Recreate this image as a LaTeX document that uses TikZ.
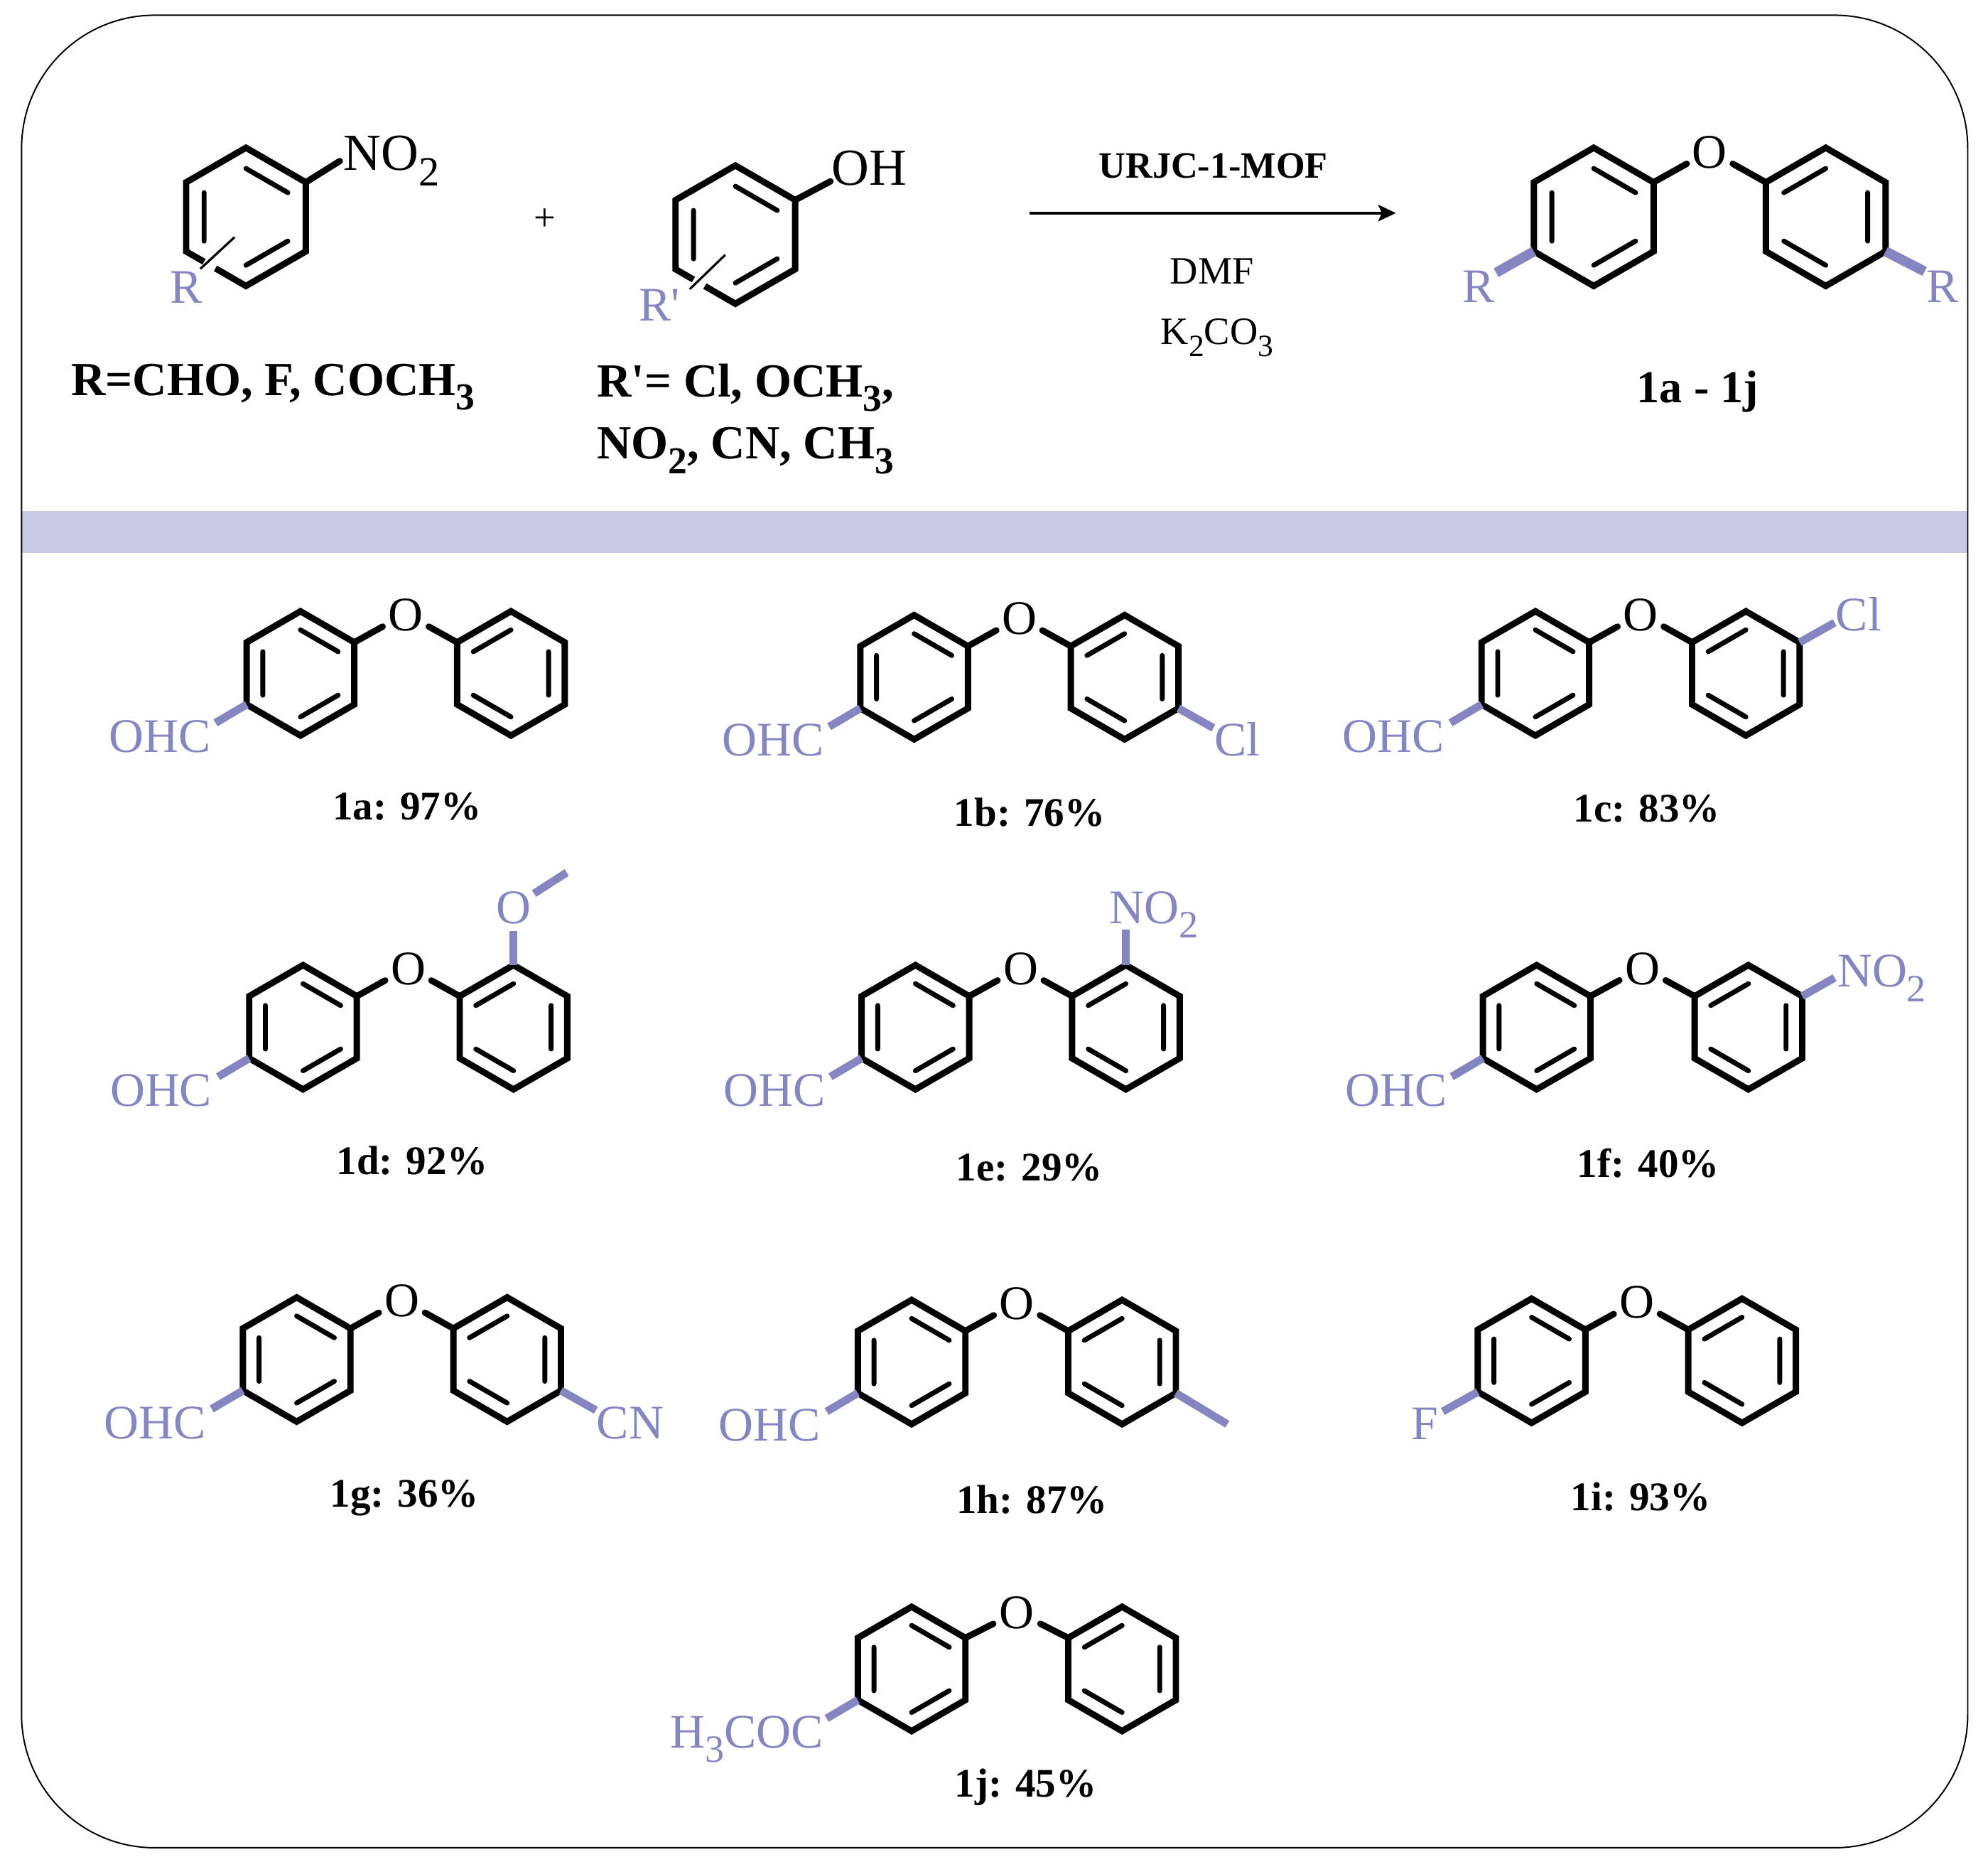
\documentclass[tikz,border=0pt]{standalone}
\usepackage{fontspec}
\setmainfont{Liberation Serif}
\newfontfamily\primefont{Liberation Serif}
\usetikzlibrary{arrows.meta,calc}
\definecolor{subblue}{HTML}{8585C1}
\definecolor{bandblue}{HTML}{C9C9E5}
\newcommand{\chemdn}[1]{\raisebox{-0.3em}[0pt][0pt]{\scalebox{0.8}{#1}}}
\newcommand{\prm}{{\primefont'}}
\tikzset{
 outerbond/.style={line width=5pt,line join=miter,line cap=butt},
 hetbond/.style={line width=5pt,line cap=round,shorten >=1.5pt},
 innerbond/.style={line width=3.9pt,line cap=round},
 subbond/.style={line width=6.2pt,subblue,line cap=butt},
 subbondtop/.style={line width=7.8pt,subblue,line cap=butt},
 atom/.style={font=\fontsize{38}{40}\selectfont,inner sep=0pt,text height=26.5pt,text depth=0pt},
 topatom/.style={atom,font=\fontsize{41}{44}\selectfont,text height=28.5pt},
 oxy/.style={atom,circle,minimum size=36pt},
 bluetext/.style={atom,text=subblue},
 caption/.style={font=\fontsize{32}{38}\selectfont\bfseries,inner sep=0pt,text height=22.4pt,text depth=0pt},
 bigcaption/.style={caption,font=\fontsize{37.5}{40}\selectfont\bfseries,text height=26pt},
 cond/.style={font=\fontsize{30.5}{36}\selectfont,inner sep=0pt,text height=21.4pt,text depth=0pt},
}
% hexagon: #1 name, #2 cx, #3 cy, #4 R, #5 side (1 = double bonds as left ring, -1 = as right ring)
\newcommand{\hexpts}[5]{%
 \coordinate (#1-t) at (#2,#3-#4);
 \coordinate (#1-b) at (#2,#3+#4);
 \coordinate (#1-ur) at (#2+.866*#4,#3-.5*#4);
 \coordinate (#1-lr) at (#2+.866*#4,#3+.5*#4);
 \coordinate (#1-ul) at (#2-.866*#4,#3-.5*#4);
 \coordinate (#1-ll) at (#2-.866*#4,#3+.5*#4);
 \coordinate (#1-it) at (#2,#3-.7*#4);
 \coordinate (#1-ib) at (#2,#3+.7*#4);
 \coordinate (#1-iu) at (#2+#5*.606*#4,#3-.35*#4);
 \coordinate (#1-il) at (#2+#5*.606*#4,#3+.35*#4);
 \coordinate (#1-ju) at (#2-#5*.606*#4,#3-.35*#4);
 \coordinate (#1-jl) at (#2-#5*.606*#4,#3+.35*#4);
 \draw[innerbond] (#1-it) -- (#1-iu) (#1-ib) -- (#1-il) (#1-ju) -- (#1-jl);
}
\newcommand{\hexring}[5]{%
 \hexpts{#1}{#2}{#3}{#4}{#5}
 \draw[outerbond] (#1-t) -- (#1-ur) -- (#1-lr) -- (#1-b) -- (#1-ll) -- (#1-ul) -- cycle;
}
% diphenyl ether: #1 id, #2 cx, #3 cy, #4 R, #5 ring separation, #6 O rise
\newcommand{\dpe}[6]{%
 \hexring{#1-l}{#2}{#3}{#4}{1}
 \hexring{#1-r}{#2+#5}{#3}{#4}{-1}
 \node[oxy] (#1-O) at (#2+.5*#5,#3-#6) {O};
 \draw[hetbond] (#1-l-ur) -- (#1-O);
 \draw[hetbond] (#1-r-ul) -- (#1-O);
}
\begin{document}
\begin{tikzpicture}[x=1pt,y=-1pt]
\useasboundingbox (0,0) rectangle (1568,1468);
\fill[white] (0,0) rectangle (1568,1468);
\fill[bandblue] (17,403) rectangle (1552,436);
\draw[line width=1.1pt,rounded corners=105pt] (17,12) rectangle (1552,1457);

% --- reactant 1
\hexpts{ra}{194}{171}{54.5}{1}
\draw[outerbond] ($(ra-ll)!.3!(ra-b)$) -- (ra-ll) -- (ra-ul) -- (ra-t) -- (ra-ur) -- (ra-lr) -- (ra-b) -- ($(ra-ll)!.49!(ra-b)$);
\node[topatom,anchor=west] (ra-no) at (271,120) {NO\chemdn{2}};
\coordinate (ra-e) at (268,127);
\draw[hetbond,shorten >=0pt] (ra-ur) -- (ra-e);
\coordinate (ra-s1) at (185,187);
\coordinate (ra-s2) at (158,212);
\draw[line width=1.8pt] (ra-s1) -- (ra-s2);
\node[bluetext] (ra-R) at (147,226) {R};
\node[bigcaption,anchor=west] (ra-cap) at (56,299) {R=CHO, F, COCH\chemdn{3}};

\node[cond] (plus) at (430,171) {+};

% --- reactant 2
\hexpts{rb}{580}{185}{54.5}{1}
\draw[outerbond] ($(rb-ll)!.3!(rb-b)$) -- (rb-ll) -- (rb-ul) -- (rb-t) -- (rb-ur) -- (rb-lr) -- (rb-b) -- ($(rb-ll)!.49!(rb-b)$);
\node[topatom,anchor=west] (rb-oh) at (656,132) {OH};
\coordinate (rb-e) at (655,143);
\draw[hetbond,shorten >=0pt] (rb-ur) -- (rb-e);
\coordinate (rb-s1) at (572,201);
\coordinate (rb-s2) at (544,228);
\draw[line width=1.8pt] (rb-s1) -- (rb-s2);
\node[bluetext] (rb-R) at (520,240) {R\prm};
\node[bigcaption] (rb-cap1) at (588,300) {R\prm= Cl, OCH\chemdn{3},};
\node[bigcaption] (rb-cap2) at (588,349) {NO\chemdn{2}, CN, CH\chemdn{3}};

% --- arrow
\node[caption,font=\fontsize{29.3}{32}\selectfont\bfseries,text height=20.5pt] (cat) at (957,130) {URJC-1-MOF};
\coordinate (arr-s) at (812,168);
\coordinate (arr-e) at (1101,168);
\draw[line width=2.4pt,-{Stealth[length=14pt,width=13pt,inset=3pt]}] (arr-s) -- (arr-e);
\node[cond] (dmf) at (956,213) {DMF};
\node[cond] (kco) at (960,261) {K\chemdn{2}CO\chemdn{3}};

% --- general product
\dpe{p}{1257}{171}{54.5}{183}{52}
\coordinate (p-a) at (1180,215);
\coordinate (p-b) at (1518,214);
\draw[subbondtop] (p-l-ll) -- (p-a);
\draw[subbondtop] (p-r-lr) -- (p-b);
\node[bluetext] (p-R1) at (1166,225) {R};
\node[bluetext] (p-R2) at (1532,225) {R};
\node[bigcaption,font=\fontsize{36}{40}\selectfont\bfseries,text height=25pt] (p-cap) at (1339,305) {1a - 1j};

% --- 1a
\dpe{a}{237}{531}{49}{166}{47}
\coordinate (a-e) at (170,570);
\draw[subbond] (a-l-ll) -- (a-e);
\node[bluetext] (a-s) at (126,580) {OHC};
\node[caption] (a-c) at (321,635) {1a: 97\%};
% --- 1b
\dpe{b}{721}{534}{49}{166}{47}
\coordinate (b-e) at (654,573);
\coordinate (b-f) at (957,574);
\draw[subbond] (b-l-ll) -- (b-e);
\draw[subbond] (b-r-lr) -- (b-f);
\node[bluetext] (b-s) at (610,583) {OHC};
\node[bluetext] (b-t) at (976,583) {Cl};
\node[caption] (b-c) at (812,640) {1b: 76\%};
% --- 1c
\dpe{c}{1211}{531}{49}{166}{47}
\coordinate (c-e) at (1144,570);
\coordinate (c-f) at (1447,491);
\draw[subbond] (c-l-ll) -- (c-e);
\draw[subbond] (c-r-ur) -- (c-f);
\node[bluetext] (c-s) at (1099,580) {OHC};
\node[bluetext] (c-t) at (1466,484) {Cl};
\node[caption] (c-c) at (1299,637) {1c: 83\%};
% --- 1d
\dpe{d}{239}{810}{49}{166}{47}
\coordinate (d-e) at (172,849);
\coordinate (d-f) at (447,688);
\draw[subbond] (d-l-ll) -- (d-e);
\node[bluetext] (d-s) at (127,859) {OHC};
\node[bluetext,circle,minimum size=34pt] (d-t) at (405,715) {O};
\draw[subbond] (d-r-t) -- (d-t);
\draw[subbond] (d-t) -- (d-f);
\node[caption] (d-c) at (325,915) {1d: 92\%};
% --- 1e
\dpe{e}{722}{810}{49}{166}{47}
\coordinate (e-e) at (655,849);
\coordinate (e-f) at (888,733);
\draw[subbond] (e-l-ll) -- (e-e);
\draw[subbond] (e-r-t) -- (e-f);
\node[bluetext] (e-s) at (611,859) {OHC};
\node[bluetext,anchor=west] (e-t) at (875,715) {NO\chemdn{2}};
\node[caption] (e-c) at (812,920) {1e: 29\%};
% --- 1f
\dpe{f}{1212}{810}{49}{167}{47}
\coordinate (f-e) at (1145,849);
\coordinate (f-f) at (1447,771);
\draw[subbond] (f-l-ll) -- (f-e);
\draw[subbond] (f-r-ur) -- (f-f);
\node[bluetext] (f-s) at (1101,859) {OHC};
\node[bluetext,anchor=west] (f-t) at (1449,765) {NO\chemdn{2}};
\node[caption] (f-c) at (1300,917) {1f: 40\%};
% --- 1g
\dpe{g}{234}{1072}{49}{166}{47}
\coordinate (g-e) at (167,1111);
\coordinate (g-f) at (470,1112);
\draw[subbond] (g-l-ll) -- (g-e);
\draw[subbond] (g-r-lr) -- (g-f);
\node[bluetext] (g-s) at (122,1121) {OHC};
\node[bluetext] (g-t) at (497,1121) {CN};
\node[caption] (g-c) at (319,1177) {1g: 36\%};
% --- 1h
\dpe{h}{719}{1074}{49}{166}{47}
\coordinate (h-e) at (652,1113);
\coordinate (h-f) at (968,1123);
\draw[subbond] (h-l-ll) -- (h-e);
\draw[subbond] (h-r-lr) -- (h-f);
\node[bluetext] (h-s) at (607,1123) {OHC};
\node[caption] (h-c) at (814,1182) {1h: 87\%};
% --- 1i
\dpe{i}{1208}{1073}{49}{166}{47}
\coordinate (i-e) at (1138,1113);
\draw[subbond] (i-l-ll) -- (i-e);
\node[bluetext] (i-s) at (1124,1122) {F};
\node[caption] (i-c) at (1294,1180) {1i: 93\%};
% --- 1j
\dpe{j}{719}{1316}{49}{166}{45}
\coordinate (j-e) at (652,1355);
\draw[subbond] (j-l-ll) -- (j-e);
\node[bluetext] (j-s) at (589,1365) {H\chemdn{3}COC};
\node[caption] (j-c) at (809,1406) {1j: 45\%};
\end{tikzpicture}
\end{document}
